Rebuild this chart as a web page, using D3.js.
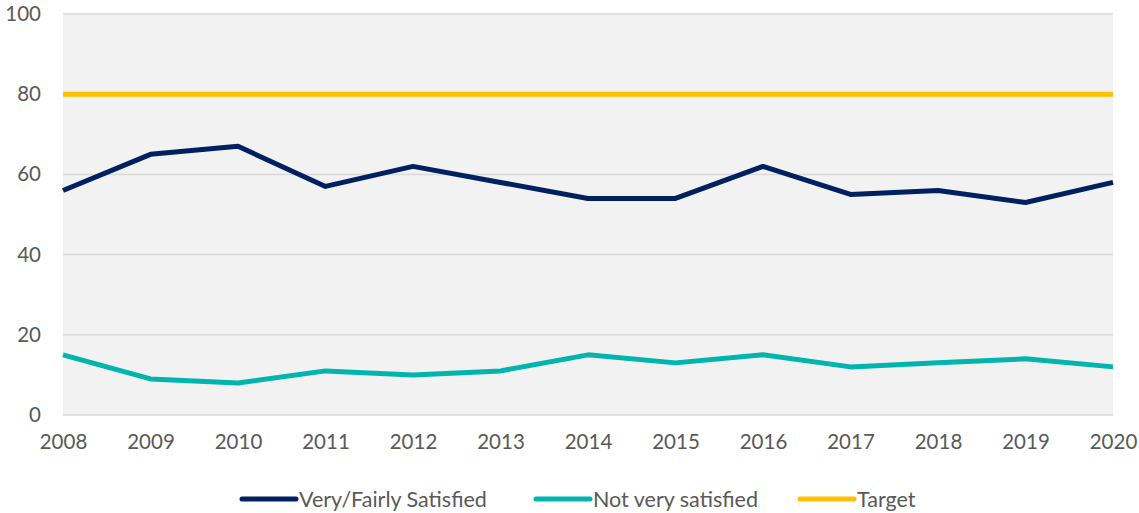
<!DOCTYPE html>
<html><head><meta charset="utf-8">
<script src="https://cdn.jsdelivr.net/npm/d3@7"></script>
<style>body{margin:0;background:#fff;}text{font-family:Lato,"Open Sans",sans-serif;}</style>
</head><body><svg id="c" width="1139" height="513"></svg>
<script>
const years = ["2008","2009","2010","2011","2012","2013","2014","2015","2016","2017","2018","2019","2020"];
const satisfied = [56,65,67,57,62,58,54,54,62,55,56,53,58];
const notSatisfied = [15,9,8,11,10,11,15,13,15,12,13,14,12];
const target = [80,80,80,80,80,80,80,80,80,80,80,80,80];
const yTicks = [0,20,40,60,80,100];
const seriesNames = ["Very/Fairly Satisfied","Not very satisfied","Target"];
const colors = ["#002060","#00b5ad","#ffc000"];

const svg = d3.select("#c");
const L=63, R=1113, T=14, B=415;
const x = d3.scalePoint().domain(years).range([L,R]);
const y = d3.scaleLinear().domain([0,100]).range([B,T]);

svg.append("rect").attr("x",L).attr("y",T).attr("width",R-L).attr("height",B-T).attr("fill","#f2f2f2");
svg.selectAll(".grid").data(yTicks).enter().append("line")
  .attr("x1",L).attr("x2",R).attr("y1",d=>y(d)).attr("y2",d=>y(d))
  .attr("stroke","#d9d9d9").attr("stroke-width",1.5);

const yAxis = svg.append("g").attr("transform",`translate(${L},0)`)
  .call(d3.axisLeft(y).tickValues(yTicks).tickSize(0).tickPadding(22));
yAxis.select(".domain").remove();
yAxis.selectAll("text").attr("font-size",20.5).attr("fill","#595959").style("font-family","Lato,'Open Sans',sans-serif");

const xAxis = svg.append("g").attr("transform",`translate(0,${B})`)
  .call(d3.axisBottom(x).tickSize(0).tickPadding(19));
xAxis.select(".domain").remove();
xAxis.selectAll("text").attr("font-size",20.5).attr("fill","#595959").style("font-family","Lato,'Open Sans',sans-serif");

const line = d3.line().x((d,i)=>x(years[i])).y(d=>y(d));
[satisfied, notSatisfied, target].forEach((s,k)=>{
  svg.append("path").datum(s).attr("d",line).attr("fill","none")
    .attr("stroke",colors[k]).attr("stroke-width",5).attr("stroke-linejoin","round");
});

const legendX = [242,536,800];
seriesNames.forEach((n,k)=>{
  const g = svg.append("g").attr("transform",`translate(${legendX[k]},499)`);
  g.append("line").attr("x1",0).attr("x2",54).attr("stroke",colors[k]).attr("stroke-width",5).attr("stroke-linecap","round");
  g.append("text").attr("x",57).attr("y",7.5).attr("font-size",21.5).attr("fill","#595959").text(n);
});
</script></body></html>
